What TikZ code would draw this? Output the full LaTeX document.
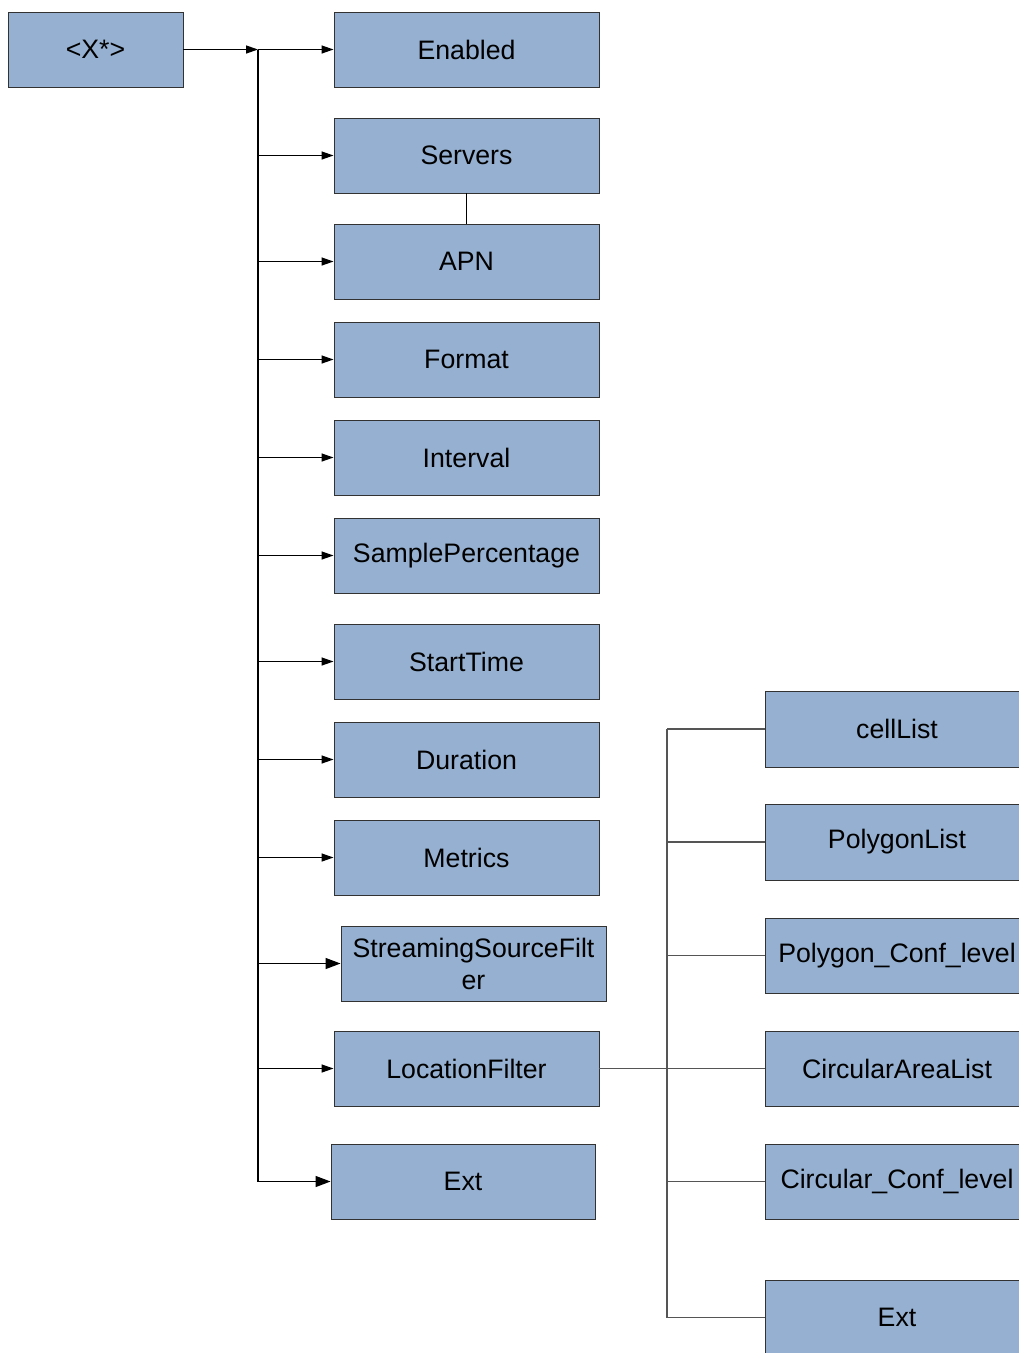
\documentclass[tikz,border=0pt]{standalone}
\usepackage{fontspec}
\setmainfont{Liberation Sans}
\usetikzlibrary{arrows.meta}
\definecolor{boxfill}{RGB}{149,176,208}
\definecolor{boxline}{RGB}{50,50,50}
\definecolor{greyline}{RGB}{85,85,85}
\begin{document}
\begin{tikzpicture}[x=1pt,y=-1pt,
  box/.style={draw=boxline,fill=boxfill,line width=0.9pt,minimum width=265pt,minimum height=75pt,inner sep=0pt,align=center,font=\fontsize{26.7}{32}\selectfont},
  conn/.style={draw=black,line width=1.3pt},
  arr/.style={conn,-{Triangle[length=12pt,width=8pt]}},
  arrbig/.style={conn,-{Triangle[length=15pt,width=11pt]}},
  sub/.style={draw=greyline,line width=1.4pt}]
\useasboundingbox (0,0) rectangle (1019,1353);
\clip (0,0) rectangle (1019,1353);
\fill[white] (0,0) rectangle (1019,1353);
% left column
\node[box,minimum width=175pt] (root) at (95.5,49.5) {<X*>};
\node[box] (en) at (466.5,49.5) {Enabled};
\node[box] (srv) at (466.5,155.5) {Servers};
\node[box] (apn) at (466.5,261.5) {APN};
\node[box] (fmt) at (466.5,359.5) {Format};
\node[box] (intv) at (466.5,457.5) {Interval};
\node[box] (samp) at (466.5,555.5) {SamplePercentage};
\node[box] (st) at (466.5,661.5) {StartTime};
\node[box] (dur) at (466.5,759.5) {Duration};
\node[box] (met) at (466.5,857.5) {Metrics};
\node[box] (ssf) at (473.5,963.5) {StreamingSourceFilt\\er};
\node[box] (loc) at (466.5,1068.5) {LocationFilter};
\node[box,minimum width=264pt] (ext) at (463,1181.5) {Ext};
% right column
\node[box,minimum width=264pt,minimum height=76pt] (cell) at (897,729) {cellList};
\node[box,minimum width=264pt,minimum height=76pt] (poly) at (897,842) {PolygonList};
\node[box,minimum width=264pt] (pcl) at (897,955.5) {Polygon\_Conf\_level};
\node[box,minimum width=264pt] (cal) at (897,1068.5) {CircularAreaList};
\node[box,minimum width=264pt] (ccl) at (897,1181.5) {Circular\_Conf\_level};
\node[box,minimum width=264pt] (ext2) at (897,1317.5) {Ext};
% trunk
\coordinate (ttop) at (258,49.5);
\coordinate (tbot) at (258,1182);
\draw[arr] (root.east) -- (ttop);
\draw[conn] (ttop) -- (tbot);
\foreach \n in {en,srv,apn,fmt,intv,samp,st,dur,met,loc}
  \draw[arr] (ttop |- \n.west) -- (\n.west);
\draw[arrbig] (ttop |- ssf.west) -- (ssf.west);
\draw[arrbig] (ttop |- ext.west) -- (ext.west);
\draw[conn,line width=1pt] (srv.south) -- (apn.north);
% right tree
\coordinate (rtop) at (667,729);
\coordinate (rbot) at (667,1317.5);
\draw[sub] (rtop) -- (rbot);
\draw[sub] (loc.east) -- (cal.west);
\foreach \n in {cell,poly,pcl,ccl,ext2}
  \draw[sub] (rtop |- \n.west) -- (\n.west);
\end{tikzpicture}
\end{document}
